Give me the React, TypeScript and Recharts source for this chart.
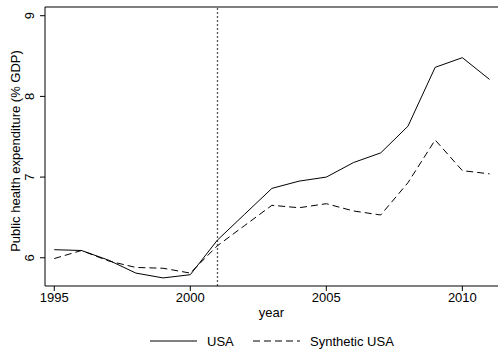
import { LineChart, Line, XAxis, YAxis, ReferenceLine } from "recharts";

const years = [
  1995, 1996, 1997, 1998, 1999, 2000, 2001, 2002, 2003, 2004, 2005, 2006,
  2007, 2008, 2009, 2010, 2011,
];
const usa = [
  6.1, 6.09, 5.97, 5.81, 5.75, 5.79, 6.22, 6.54, 6.86, 6.95, 7.0, 7.18, 7.3,
  7.63, 8.36, 8.48, 8.21,
];
const synthUsa = [
  5.99, 6.09, 5.96, 5.88, 5.87, 5.81, 6.15, 6.4, 6.65, 6.62, 6.67, 6.58, 6.53,
  6.93, 7.46, 7.08, 7.04,
];
const xTicks = [1995, 2000, 2005, 2010];
const yTicks = [6, 7, 8, 9];
const treatmentYear = 2001;

const X_DOMAIN: [number, number] = [1994.66, 2011.31];
const Y_DOMAIN: [number, number] = [5.65, 9.108];

const FONT = "'Liberation Sans', Arial, sans-serif";

const rows = years.map((year, i) => ({
  year,
  usa: usa[i],
  synth: synthUsa[i],
}));

const series = [
  { key: "usa", name: "USA", dash: undefined as string | undefined },
  { key: "synth", name: "Synthetic USA", dash: "7 4" },
];

// Stata-style y tick labels, rotated to read bottom-up
function RotatedTick(props: any) {
  const { x, y, payload } = props;
  const bx = x - 4;
  return (
    <text
      x={bx}
      y={y}
      transform={`rotate(-90 ${bx} ${y})`}
      textAnchor="middle"
      fontSize={13}
      fontFamily={FONT}
      fill="#000"
    >
      {payload.value}
    </text>
  );
}

function LegendRow() {
  return (
    <svg width={498} height={24} style={{ position: "absolute", left: 0, top: 329 }}>
      {series.map((s, i) => {
        const x0 = i === 0 ? 150 : 253;
        return (
          <g key={s.key}>
            <line
              x1={x0}
              x2={x0 + 47}
              y1={12}
              y2={12}
              stroke="#000"
              strokeWidth={1}
              strokeDasharray={s.dash}
            />
            <text x={x0 + 57} y={16.5} fontSize={13} fontFamily={FONT} fill="#000">
              {s.name}
            </text>
          </g>
        );
      })}
    </svg>
  );
}

export default function App() {
  return (
    <div style={{ position: "absolute", left: 0, top: 0, width: 498, height: 353, background: "#fff" }}>
      <LineChart
        width={498}
        height={353}
        data={rows}
        margin={{ top: 7, right: 0, left: 0, bottom: 36 }}
      >
        <XAxis
          dataKey="year"
          type="number"
          domain={X_DOMAIN}
          allowDataOverflow
          ticks={xTicks}
          height={31}
          tickSize={5}
          stroke="#000"
          tick={{ fontSize: 13, fontFamily: FONT, fill: "#000" }}
          label={{
            value: "year",
            position: "insideBottom",
            offset: 0,
            fontSize: 13,
            fontFamily: FONT,
            fill: "#000",
          }}
        />
        <YAxis
          type="number"
          domain={Y_DOMAIN}
          allowDataOverflow
          ticks={yTicks}
          width={45}
          tickSize={5}
          stroke="#000"
          tick={<RotatedTick />}
          label={{
            content: () => (
              <text
                x={19.5}
                y={151}
                transform="rotate(-90 19.5 151)"
                textAnchor="middle"
                fontSize={13}
                fontFamily={FONT}
                fill="#000"
              >
                Public health expenditure (% GDP)
              </text>
            ),
          }}
        />
        <ReferenceLine y={Y_DOMAIN[1]} stroke="#000" strokeWidth={1.2} />
        <ReferenceLine
          x={treatmentYear}
          stroke="#555"
          strokeWidth={1.3}
          strokeDasharray="2 2"
        />
        {series.map((s) => (
          <Line
            key={s.key}
            dataKey={s.key}
            name={s.name}
            stroke="#000"
            strokeWidth={1}
            strokeDasharray={s.dash}
            dot={false}
            activeDot={false}
            isAnimationActive={false}
          />
        ))}
      </LineChart>
      <LegendRow />
    </div>
  );
}
